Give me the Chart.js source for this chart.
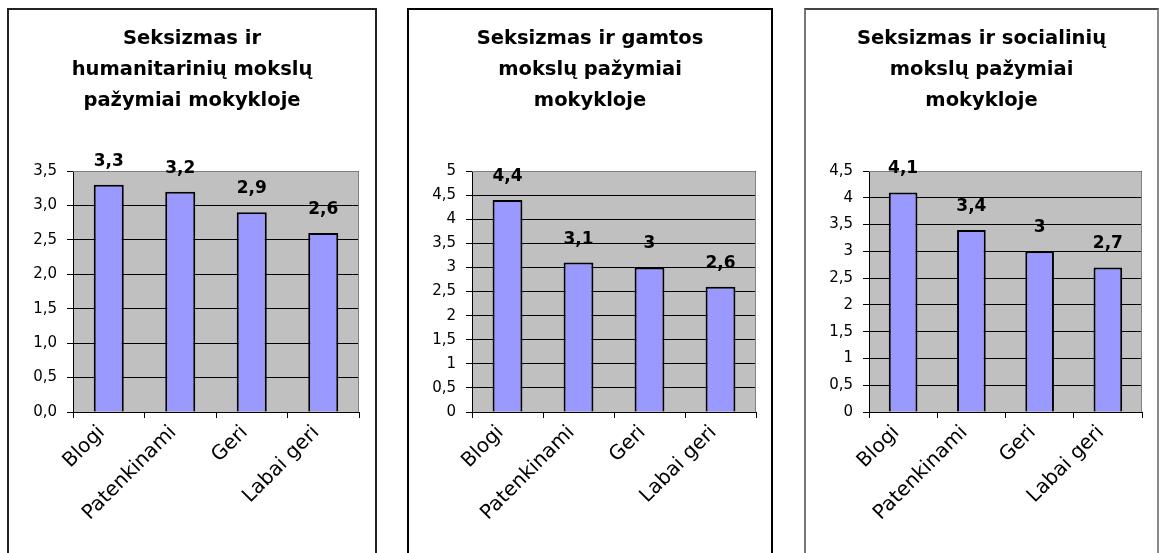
<!doctype html>
<html lang="lt">
<head>
<meta charset="utf-8">
<title>Seksizmas ir pažymiai mokykloje</title>
<style>
  * { margin: 0; padding: 0; }
  html, body { width: 1159px; height: 553px; overflow: hidden; background: #fff; }
  .panel { position: absolute; top: 8px; height: 600px; border: 2px solid #222; box-sizing: border-box; background: #fff; }
  .panel canvas { display: block; }
</style>
</head>
<body>
<div class="panel" style="left:7px; width:370px;"><canvas id="c1" width="366" height="543"></canvas></div>
<div class="panel" style="left:407px; width:366px; border-color:#000;"><canvas id="c2" width="362" height="543"></canvas></div>
<div class="panel" style="left:804px; width:355px; border-color:#444 #888 #444 #777;"><canvas id="c3" width="351" height="543"></canvas></div>

<script src="https://cdn.jsdelivr.net/npm/chart.js"></script>
<script>
  const categories = ['Blogi', 'Patenkinami', 'Geri', 'Labai geri'];

  const humanitarianGrades = [3.3, 3.2, 2.9, 2.6];
  const naturalGrades = [4.4, 3.1, 3, 2.6];
  const socialGrades = [4.1, 3.4, 3, 2.7];

  const titles = [
    ['Seksizmas ir', 'humanitarinių mokslų', 'pažymiai mokykloje'],
    ['Seksizmas ir gamtos', 'mokslų pažymiai', 'mokykloje'],
    ['Seksizmas ir socialinių', 'mokslų pažymiai', 'mokykloje']
  ];

  const yMax = [3.5, 5, 4.5];

  const FONT = '"DejaVu Sans", "Liberation Sans", Arial, sans-serif';

  const comma = v => String(+v.toFixed(1)).replace('.', ',');
  const commaFixed = v => v.toFixed(1).replace('.', ',');

  // grey plot area with a lighter frame on top and right
  const plotArea = {
    id: 'plotArea',
    beforeDraw(chart) {
      const { ctx, chartArea: a } = chart;
      ctx.save();
      ctx.fillStyle = '#c0c0c0';
      ctx.fillRect(a.left, a.top, a.right - a.left, a.bottom - a.top);
      ctx.restore();
    },
    beforeDatasetsDraw(chart) {
      const { ctx, chartArea: a } = chart;
      ctx.save();
      ctx.strokeStyle = '#808080';
      ctx.lineWidth = 1;
      ctx.beginPath();
      ctx.moveTo(a.left, a.top + 0.5);
      ctx.lineTo(a.right - 0.5, a.top + 0.5);
      ctx.lineTo(a.right - 0.5, a.bottom);
      ctx.stroke();
      ctx.restore();
    }
  };

  // bold value above each bar
  const valueLabels = {
    id: 'valueLabels',
    afterDatasetsDraw(chart) {
      const { ctx } = chart;
      const values = chart.data.datasets[0].data;
      ctx.save();
      ctx.font = 'bold 17px ' + FONT;
      ctx.fillStyle = '#000';
      ctx.textAlign = 'center';
      ctx.textBaseline = 'alphabetic';
      chart.getDatasetMeta(0).data.forEach((bar, i) => {
        ctx.fillText(comma(values[i]), bar.x, bar.y - 19);
      });
      ctx.restore();
    }
  };

  function makeChart(id, values, title, max, fmt, pad) {
    return new Chart(document.getElementById(id), {
      type: 'bar',
      data: {
        labels: categories,
        datasets: [{
          data: values,
          backgroundColor: '#9999ff',
          borderColor: '#000',
          borderWidth: 2,
          categoryPercentage: 1,
          barPercentage: 0.42
        }]
      },
      options: {
        responsive: false,
        animation: false,
        layout: { padding: { left: pad, right: pad, top: 0, bottom: 0 } },
        plugins: {
          legend: { display: false },
          tooltip: { enabled: false },
          title: {
            display: true,
            text: title,
            color: '#000',
            font: { family: FONT, size: 19.5, weight: 'bold', lineHeight: 1.58 },
            padding: { top: 14, bottom: 54.6 }
          }
        },
        scales: {
          x: {
            grid: { drawOnChartArea: false, drawTicks: true, tickLength: 6, offset: true, color: '#000' },
            border: { display: true, color: '#000', width: 1 },
            ticks: {
              color: '#000',
              font: { family: FONT, size: 20 },
              minRotation: 45,
              maxRotation: 45,
              autoSkip: false,
              labelOffset: -7,
              padding: 3
            },
            afterFit(scale) { scale.height = 141; }
          },
          y: {
            min: 0,
            max: max,
            grid: { color: '#000', tickLength: 6, drawTicks: true },
            border: { display: true, color: '#000', width: 1 },
            ticks: {
              stepSize: 0.5,
              color: '#000',
              font: { family: FONT, size: 15 },
              padding: 10,
              callback: value => fmt(value)
            },
            afterFit(scale) { scale.width = 48; }
          }
        }
      },
      plugins: [plotArea, valueLabels]
    });
  }

  makeChart('c1', humanitarianGrades, titles[0], yMax[0], commaFixed, 16);
  makeChart('c2', naturalGrades, titles[1], yMax[1], comma, 15);
  makeChart('c3', socialGrades, titles[2], yMax[2], comma, 15);
</script>
</body>
</html>
